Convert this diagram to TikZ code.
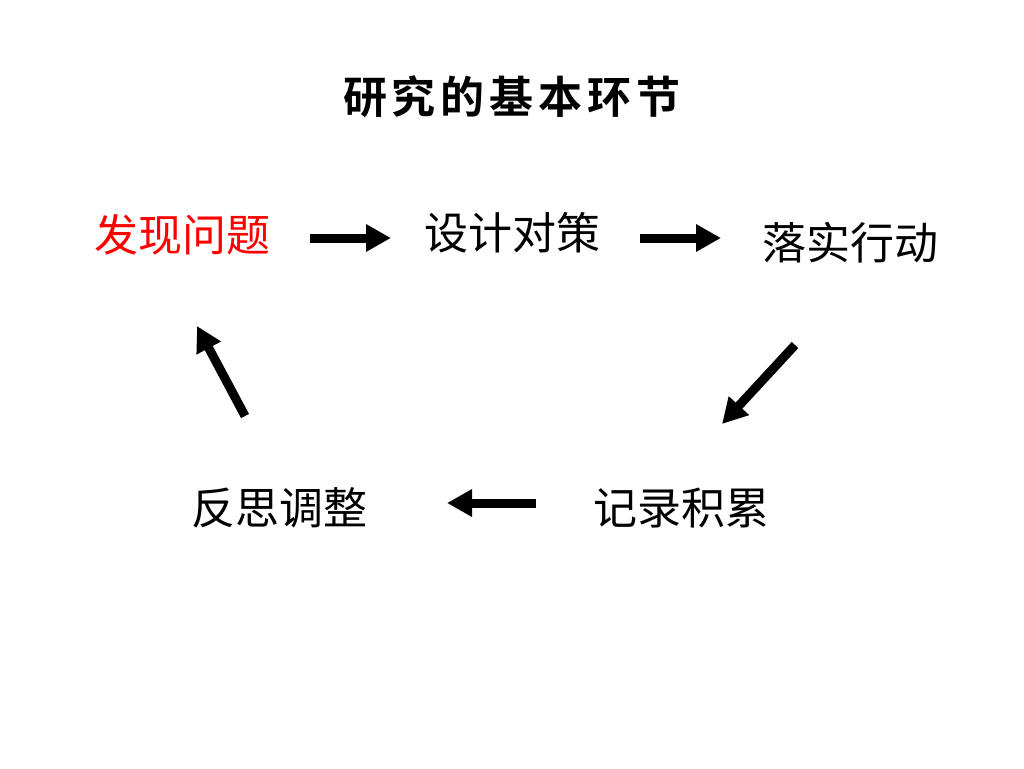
\documentclass[tikz,border=0pt]{standalone}
\usepackage{fontspec}
\setmainfont{Noto Sans CJK SC}
\newfontfamily\cjkbold{Noto Sans CJK SC Bold}
\usetikzlibrary{arrows.meta}
\begin{document}
\begin{tikzpicture}[x=1pt,y=-1pt,
  lbl/.style={inner sep=0pt, font=\fontsize{44}{46}\selectfont},
  bigarrow/.style={line width=9pt, -{Triangle[width=26pt,length=25pt]}}]
\useasboundingbox (0,0) rectangle (1024,768);
\node[inner sep=0pt, font=\cjkbold\fontsize{44}{46}\selectfont] (title) at (512,97) {研\hspace{5pt}究\hspace{5pt}的\hspace{5pt}基\hspace{5pt}本\hspace{5pt}环\hspace{5pt}节};
\node[lbl, text=red] (n1) at (182,235) {发现问题};
\node[lbl] (n2) at (512,233) {设计对策};
\node[lbl] (n3) at (850,243) {落实行动};
\node[lbl] (n4) at (681,508) {记录积累};
\node[lbl] (n5) at (279,508) {反思调整};
\coordinate (a1s) at (310,238); \coordinate (a1e) at (391,238);
\coordinate (a2s) at (640,238); \coordinate (a2e) at (721,238);
\coordinate (a3s) at (795,345); \coordinate (a3e) at (722,424);
\coordinate (a4s) at (536,503); \coordinate (a4e) at (447,503);
\coordinate (a5s) at (245,416); \coordinate (a5e) at (197,326);
\draw[bigarrow] (a1s) -- (a1e);
\draw[bigarrow] (a2s) -- (a2e);
\draw[bigarrow] (a3s) -- (a3e);
\draw[bigarrow] (a4s) -- (a4e);
\draw[bigarrow] (a5s) -- (a5e);
\end{tikzpicture}
\end{document}
